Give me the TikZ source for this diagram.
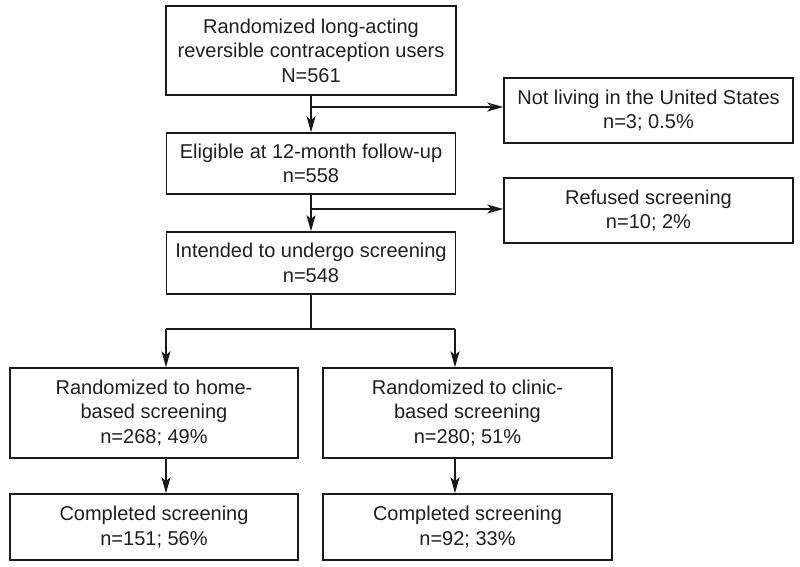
\documentclass[tikz,border=0pt]{standalone}
\usepackage{fontspec}
\setmainfont{Liberation Sans}
\usetikzlibrary{arrows.meta}
\begin{document}
\begin{tikzpicture}[x=1pt,y=-1pt,
  box/.style={draw=black!90, line width=1.6pt, align=center, inner sep=0pt,
    font=\fontsize{20pt}{24.5pt}\selectfont, text=black!88},
  link/.style={draw=black!90, line width=1.6pt},
  arr/.style={link, -{Stealth[length=16pt,width=9pt,inset=4pt]}}]
\useasboundingbox (0,0) rectangle (800,566);
\fill[white] (0,0) rectangle (800,566);

\node[box, minimum width=290pt, minimum height=89pt] (top) at (311,50.5)
  {Randomized long-acting\\reversible contraception users\\N=561};
\node[box, minimum width=289pt, minimum height=65pt] (notus) at (648.5,110.5)
  {Not living in the United States\\n=3; 0.5\%};
\node[box, minimum width=289pt, minimum height=61pt] (elig) at (311,163.5)
  {Eligible at 12-month follow-up\\n=558};
\node[box, minimum width=289pt, minimum height=65pt] (refused) at (648.5,210.5)
  {Refused screening\\n=10; 2\%};
\node[box, minimum width=289pt, minimum height=62pt] (intended) at (311,263)
  {Intended to undergo screening\\n=548};
\node[box, minimum width=288pt, minimum height=90pt] (home) at (154,413)
  {Randomized to home-\\based screening\\n=268; 49\%};
\node[box, minimum width=289pt, minimum height=90pt] (clinic) at (467.5,413)
  {Randomized to clinic-\\based screening\\n=280; 51\%};
\node[box, minimum width=288pt, minimum height=66pt] (comphome) at (154,527)
  {Completed screening\\n=151; 56\%};
\node[box, minimum width=289pt, minimum height=66pt] (compclinic) at (467.5,527)
  {Completed screening\\n=92; 33\%};

\coordinate (b1) at (311,107);
\coordinate (b2) at (311,209);
\coordinate (s) at (311,329);
\coordinate (sL) at (166,329);
\coordinate (sR) at (455,329);

\draw[arr] (top.south) -- (elig.north);
\draw[arr] (b1) -- (b1 -| notus.west);
\draw[arr] (elig.south) -- (intended.north);
\draw[arr] (b2) -- (b2 -| refused.west);
\draw[link] (intended.south) -- (s);
\draw[link] (sL) -- (sR);
\draw[arr] (sL) -- (sL |- home.north);
\draw[arr] (sR) -- (sR |- clinic.north);
\draw[arr] (sL |- home.south) -- (sL |- comphome.north);
\draw[arr] (sR |- clinic.south) -- (sR |- compclinic.north);
\end{tikzpicture}
\end{document}
